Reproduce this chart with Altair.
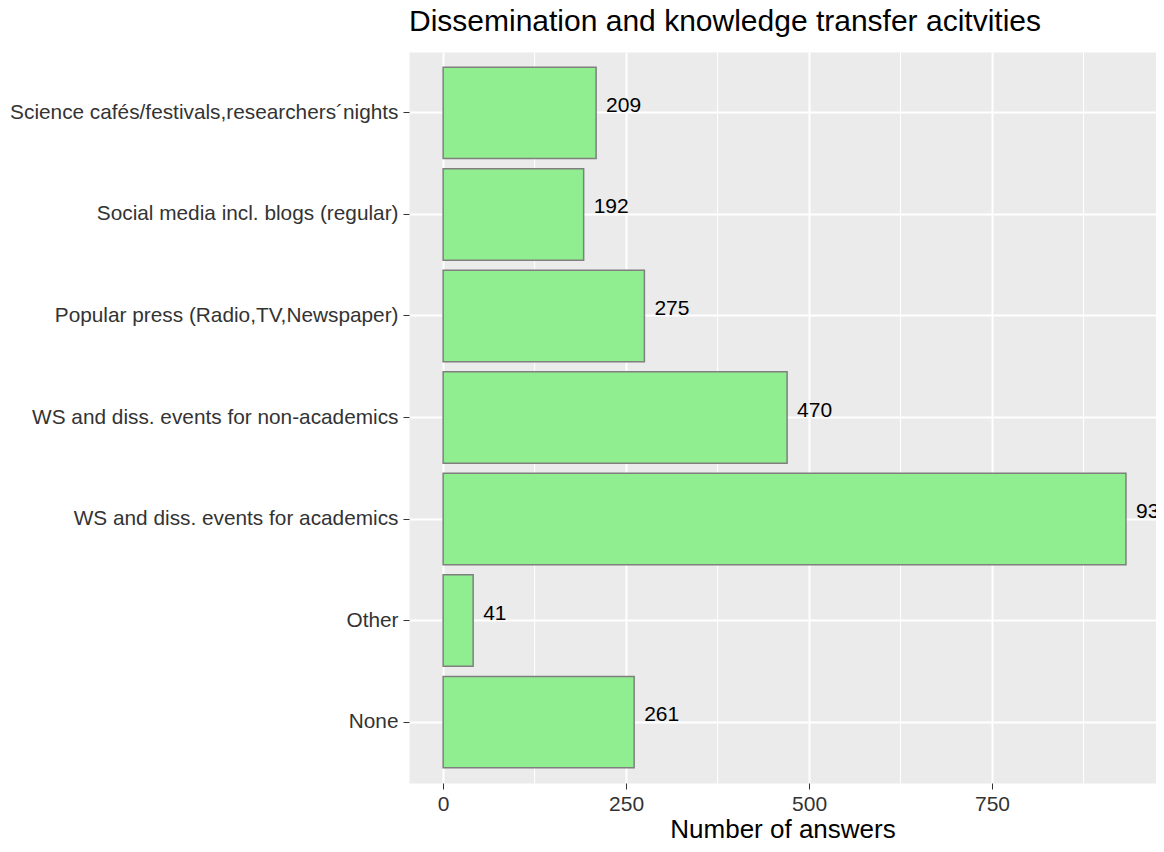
import altair as alt
import pandas as pd

categories = [
    "Science cafés/festivals,researchers´nights",
    "Social media incl. blogs (regular)",
    "Popular press (Radio,TV,Newspaper)",
    "WS and diss. events for non-academics",
    "WS and diss. events for academics",
    "Other",
    "None",
]
counts = [209, 192, 275, 470, 933, 41, 261]
x_ticks = [0, 250, 500, 750]
x_minor = [125, 375, 625, 875]

df = pd.DataFrame({"activity": categories, "count": counts, "base": [0] * len(counts)})
minor_df = pd.DataFrame({"v": x_minor})

FONT = "Liberation Sans"
xmax = max(counts)
xscale = alt.Scale(domain=[-0.05 * xmax, 1.044 * xmax], nice=False, zero=False)
yscale = alt.Scale(paddingInner=0.1, paddingOuter=0.15)

x_axis = alt.Axis(
    values=x_ticks, grid=True, gridColor="white", gridWidth=2,
    domain=False, tickColor="#333333", tickSize=6, tickWidth=1,
    labelFontSize=21, labelColor="#333333", labelPadding=4,
    title="Number of answers", titleFontSize=26, titleFontWeight="normal",
    titleColor="black", titlePadding=2,
)
y_axis = alt.Axis(
    grid=True, gridColor="white", gridWidth=2, domain=False,
    tickColor="#333333", tickSize=6, tickWidth=1,
    labelFontSize=20.8, labelColor="#333333", labelPadding=5, labelLimit=1000,
    title=None,
)

minor = alt.Chart(minor_df).mark_rule(color="white", strokeWidth=1).encode(
    x=alt.X("v:Q", scale=xscale, axis=x_axis, title="Number of answers")
)

bars = alt.Chart(df).mark_bar(
    fill="#90EE90", stroke="#7F7F7F", strokeWidth=1.5
).encode(
    y=alt.Y("activity:N", sort=categories, scale=yscale, axis=y_axis),
    x=alt.X("base:Q", scale=xscale, axis=x_axis, title="Number of answers"),
    x2="count:Q",
)

labels = alt.Chart(df).mark_text(
    align="left", baseline="middle", dx=10, dy=-7, fontSize=21,
    color="black", clip=True, font=FONT,
).encode(
    y=alt.Y("activity:N", sort=categories, scale=yscale, axis=y_axis),
    x=alt.X("count:Q", scale=xscale, axis=x_axis, title="Number of answers"),
    text="count:Q",
)

chart = alt.layer(minor, bars, labels).properties(
    width=747, height=731,
    title=alt.TitleParams(
        "Dissemination and knowledge transfer acitvities",
        anchor="start", frame="group", fontSize=30, fontWeight="normal",
        color="black", font=FONT, offset=15,
    ),
    autosize=alt.AutoSizeParams(type="none"),
    padding={"left": 401, "top": 44, "right": 0, "bottom": 59},
).configure(font=FONT).configure_view(
    fill="#EBEBEB", stroke="transparent"
)

chart.save("out.html", embed_options={"renderer": "svg", "actions": False})
